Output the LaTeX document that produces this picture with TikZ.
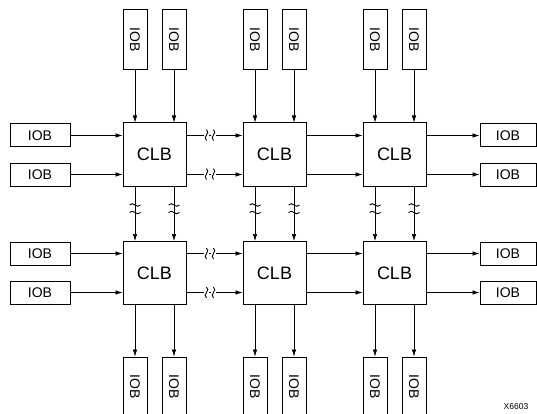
\documentclass[tikz,border=0pt]{standalone}
\usepackage{fontspec}
\setmainfont{Liberation Sans}
\usetikzlibrary{arrows.meta}
\begin{document}
\begin{tikzpicture}[x=1pt,y=-1pt,
  box/.style={draw,line width=1pt,inner sep=0pt,fill=white},
  clb/.style={box,minimum width=63pt,minimum height=63pt,font=\fontsize{18}{20}\selectfont},
  hiob/.style={box,minimum width=60pt,minimum height=23pt,font=\fontsize{14}{16}\selectfont},
  riob/.style={hiob,minimum width=56pt},
  viob/.style={box,minimum width=24pt,minimum height=60pt},
  vtext/.style={rotate=-90,inner sep=0pt,font=\fontsize{14}{16}\selectfont},
  conn/.style={line width=0.6pt,-{Latex[length=7pt,width=4.5pt]}},
  brk/.style={line width=0.9pt},
  lbl/.style={font=\fontsize{8.5}{10}\selectfont,inner sep=0pt}
]
\useasboundingbox (0,0) rectangle (537,414);
\clip (0,0) rectangle (537,414);

% CLBs
\foreach \c/\x in {1/154.5,2/274.5,3/394.5}{
  \node[clb] (c1\c) at (\x,154.5) {CLB};
  \node[clb] (c2\c) at (\x,273) {CLB};
  % top IOBs
  \node[viob] (ta\c) at (\x-19.5,40) {};
  \node[vtext] at (ta\c) {IOB};
  \node[viob] (tb\c) at (\x+19.5,40) {};
  \node[vtext] at (tb\c) {IOB};
  % bottom IOBs
  \node[viob] (ba\c) at (\x-19.5,387) {};
  \node[vtext] at (ba\c) {IOB};
  \node[viob] (bb\c) at (\x+19.5,387) {};
  \node[vtext] at (bb\c) {IOB};
}
% left and right IOBs
\node[hiob] (la1) at (40,135.5) {IOB};
\node[hiob] (lb1) at (40,174.5) {IOB};
\node[hiob] (la2) at (40,253.5) {IOB};
\node[hiob] (lb2) at (40,292.5) {IOB};
\node[riob] (ra1) at (508,135.5) {IOB};
\node[riob] (rb1) at (508,174.5) {IOB};
\node[riob] (ra2) at (508,253.5) {IOB};
\node[riob] (rb2) at (508,292.5) {IOB};

% vertical connectors
\foreach \c in {1,2,3}{
  \draw[conn] (ta\c.south) -- (ta\c.south |- c1\c.north);
  \draw[conn] (tb\c.south) -- (tb\c.south |- c1\c.north);
  \draw[conn] (ta\c.south |- c1\c.south) -- (ta\c.south |- c2\c.north);
  \draw[conn] (tb\c.south |- c1\c.south) -- (tb\c.south |- c2\c.north);
  \draw[conn] (ba\c.north |- c2\c.south) -- (ba\c.north);
  \draw[conn] (bb\c.north |- c2\c.south) -- (bb\c.north);
}
% horizontal connectors
\foreach \r in {1,2}{
  \draw[conn] (la\r.east) -- (la\r.east -| c\r1.west);
  \draw[conn] (lb\r.east) -- (lb\r.east -| c\r1.west);
  \draw[conn] (la\r.east -| c\r1.east) -- (la\r.east -| c\r2.west);
  \draw[conn] (lb\r.east -| c\r1.east) -- (lb\r.east -| c\r2.west);
  \draw[conn] (la\r.east -| c\r2.east) -- (la\r.east -| c\r3.west);
  \draw[conn] (lb\r.east -| c\r2.east) -- (lb\r.east -| c\r3.west);
  \draw[conn] (ra\r.west -| c\r3.east) -- (ra\r.west);
  \draw[conn] (rb\r.west -| c\r3.east) -- (rb\r.west);
}
% break marks on horizontal connectors
\foreach \y in {135,174,253.5,292.5}{
  \foreach \x in {206.5,213.5}{
    \fill[white] (\x-2.5,\y-1) rectangle (\x+2.5,\y+1);
    \draw[brk] (\x,\y-5.5) .. controls (\x+4.5,\y-2) and (\x-4.5,\y+2) .. (\x,\y+5.5);
  }
}
% break marks on vertical connectors
\foreach \x in {135,174,255,294,375,414}{
  \foreach \y in {205,212.5}{
    \draw[brk] (\x-5.5,\y) .. controls (\x-2,\y-4.5) and (\x+2,\y+4.5) .. (\x+5.5,\y);
  }
}
\node[lbl] (tag) at (516,407) {X6603};
\end{tikzpicture}
\end{document}
